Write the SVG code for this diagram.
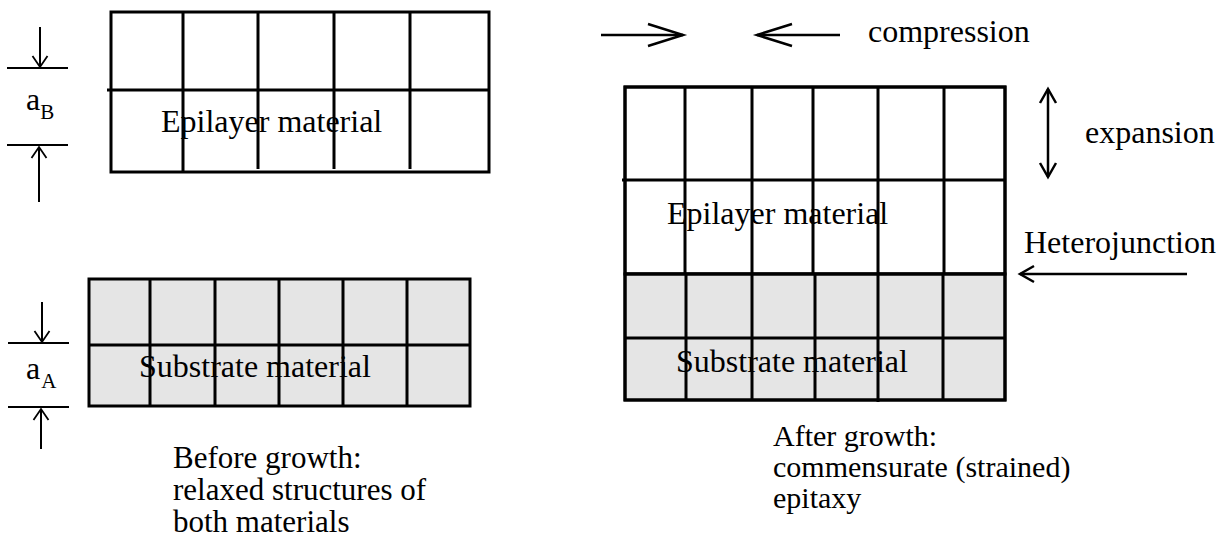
<svg xmlns="http://www.w3.org/2000/svg" width="1226" height="544" viewBox="0 0 1226 544">
  <style>
    .grid { stroke: #000; stroke-width: 3; fill: none; }
    .cell-epi { fill: #fff; stroke: #000; stroke-width: 3; }
    .cell-sub { fill: #e5e5e5; stroke: #000; stroke-width: 3; }
    .dim { stroke: #000; stroke-width: 2; fill: none; }
    .arr { stroke: #000; stroke-width: 2.5; fill: none; }
    text { font-family: "Liberation Serif", "Times New Roman", serif; fill: #000; }
    .lbl { font-size: 32px; }
    .cap-l { font-size: 31px; }
    .cap-r { font-size: 30px; }
    .sym { font-size: 32px; }
    .sub { font-size: 21px; }
  </style>
  <defs>
    <marker id="head-s" markerUnits="userSpaceOnUse" markerWidth="16" markerHeight="20" refX="11" refY="8" orient="auto-start-reverse" overflow="visible">
      <path d="M0,0.5 L11,8 L0,15.5" fill="none" stroke="#000" stroke-width="1.8"/>
    </marker>
    <marker id="head-m" markerUnits="userSpaceOnUse" markerWidth="18" markerHeight="22" refX="14" refY="9" orient="auto-start-reverse" overflow="visible">
      <path d="M0,1 L14,9 L0,17" fill="none" stroke="#000" stroke-width="2.5"/>
    </marker>
    <marker id="head-l" markerUnits="userSpaceOnUse" markerWidth="40" markerHeight="26" refX="35" refY="12" orient="auto-start-reverse" overflow="visible">
      <path d="M0,1 L35,12 L0,23" fill="none" stroke="#000" stroke-width="2.5"/>
    </marker>
  </defs>

  <!-- Epilayer, relaxed -->
  <g id="left-epilayer">
    <rect class="cell-epi" x="111" y="12" width="378" height="160"/>
    <path class="grid" d="M107,90 H489 M183,12 V172 M258,12 V169 M334,12 V169 M410,12 V169"/>
    <text class="lbl" x="161" y="132">Epilayer material</text>
  </g>

  <!-- Substrate, relaxed -->
  <g id="left-substrate">
    <rect class="cell-sub" x="89" y="279" width="381" height="127"/>
    <path class="grid" d="M89,345 H470 M150,279 V406 M215,279 V406 M279,279 V406 M343,279 V406 M407,279 V406"/>
    <text class="lbl" x="139" y="377">Substrate material</text>
  </g>

  <!-- Lattice constant markers -->
  <g id="dim-aB">
    <path class="dim" d="M7,68 H68 M7,145 H68"/>
    <text x="26" y="110"><tspan class="sym">a</tspan><tspan class="sub" dy="9">B</tspan></text>
  </g>
  <g id="dim-aA">
    <path class="dim" d="M8,343 H69 M8,407 H69"/>
    <text x="26" y="379"><tspan class="sym">a</tspan><tspan class="sub" dx="1" dy="9">A</tspan></text>
  </g>

  <!-- Strained stack after growth -->
  <g id="right-stack">
    <rect class="cell-epi" x="625" y="87" width="380" height="187"/>
    <rect class="cell-sub" x="625" y="274" width="380" height="126"/>
    <path class="grid" d="M622,180 H1005 M625,274 H1005 M625,338 H1005
      M685,87 V274 M752,87 V274 M813,87 V274 M878,87 V274 M944,87 V274
      M686,274 V400 M752,274 V400 M815,274 V400 M878,274 V402 M943,274 V400"/>
    <rect class="grid" x="625" y="87" width="380" height="313"/>
    <text class="lbl" x="667" y="224">Epilayer material</text>
    <text class="lbl" x="676" y="372">Substrate material</text>
  </g>

  <!-- Arrows -->
  <g id="connectors">
    <line class="dim" x1="40" y1="27" x2="40" y2="67" marker-end="url(#head-s)"/>
    <line class="dim" x1="39" y1="202" x2="39" y2="147" marker-end="url(#head-s)"/>
    <line class="dim" x1="42" y1="302" x2="42" y2="342" marker-end="url(#head-s)"/>
    <line class="dim" x1="41" y1="449" x2="41" y2="409" marker-end="url(#head-s)"/>
    <line class="arr" x1="601" y1="35" x2="683" y2="35" marker-end="url(#head-l)"/>
    <line class="arr" x1="840" y1="35" x2="757" y2="35" marker-end="url(#head-l)"/>
    <line class="arr" x1="1048" y1="89" x2="1048" y2="177" marker-start="url(#head-m)" marker-end="url(#head-m)"/>
    <line class="arr" x1="1187" y1="274" x2="1020" y2="274" marker-end="url(#head-m)"/>
  </g>

  <!-- Annotations -->
  <g id="labels">
    <text class="lbl" x="868" y="42">compression</text>
    <text class="lbl" x="1085" y="143">expansion</text>
    <text class="lbl" x="1024" y="253">Heterojunction</text>
  </g>

  <g id="caption-before">
    <text class="cap-l" x="173" y="468">Before growth:</text>
    <text class="cap-l" x="173" y="500">relaxed structures of</text>
    <text class="cap-l" x="173" y="532">both materials</text>
  </g>
  <g id="caption-after">
    <text class="cap-r" x="773" y="446">After growth:</text>
    <text class="cap-r" x="773" y="477">commensurate (strained)</text>
    <text class="cap-r" x="773" y="508">epitaxy</text>
  </g>
</svg>
